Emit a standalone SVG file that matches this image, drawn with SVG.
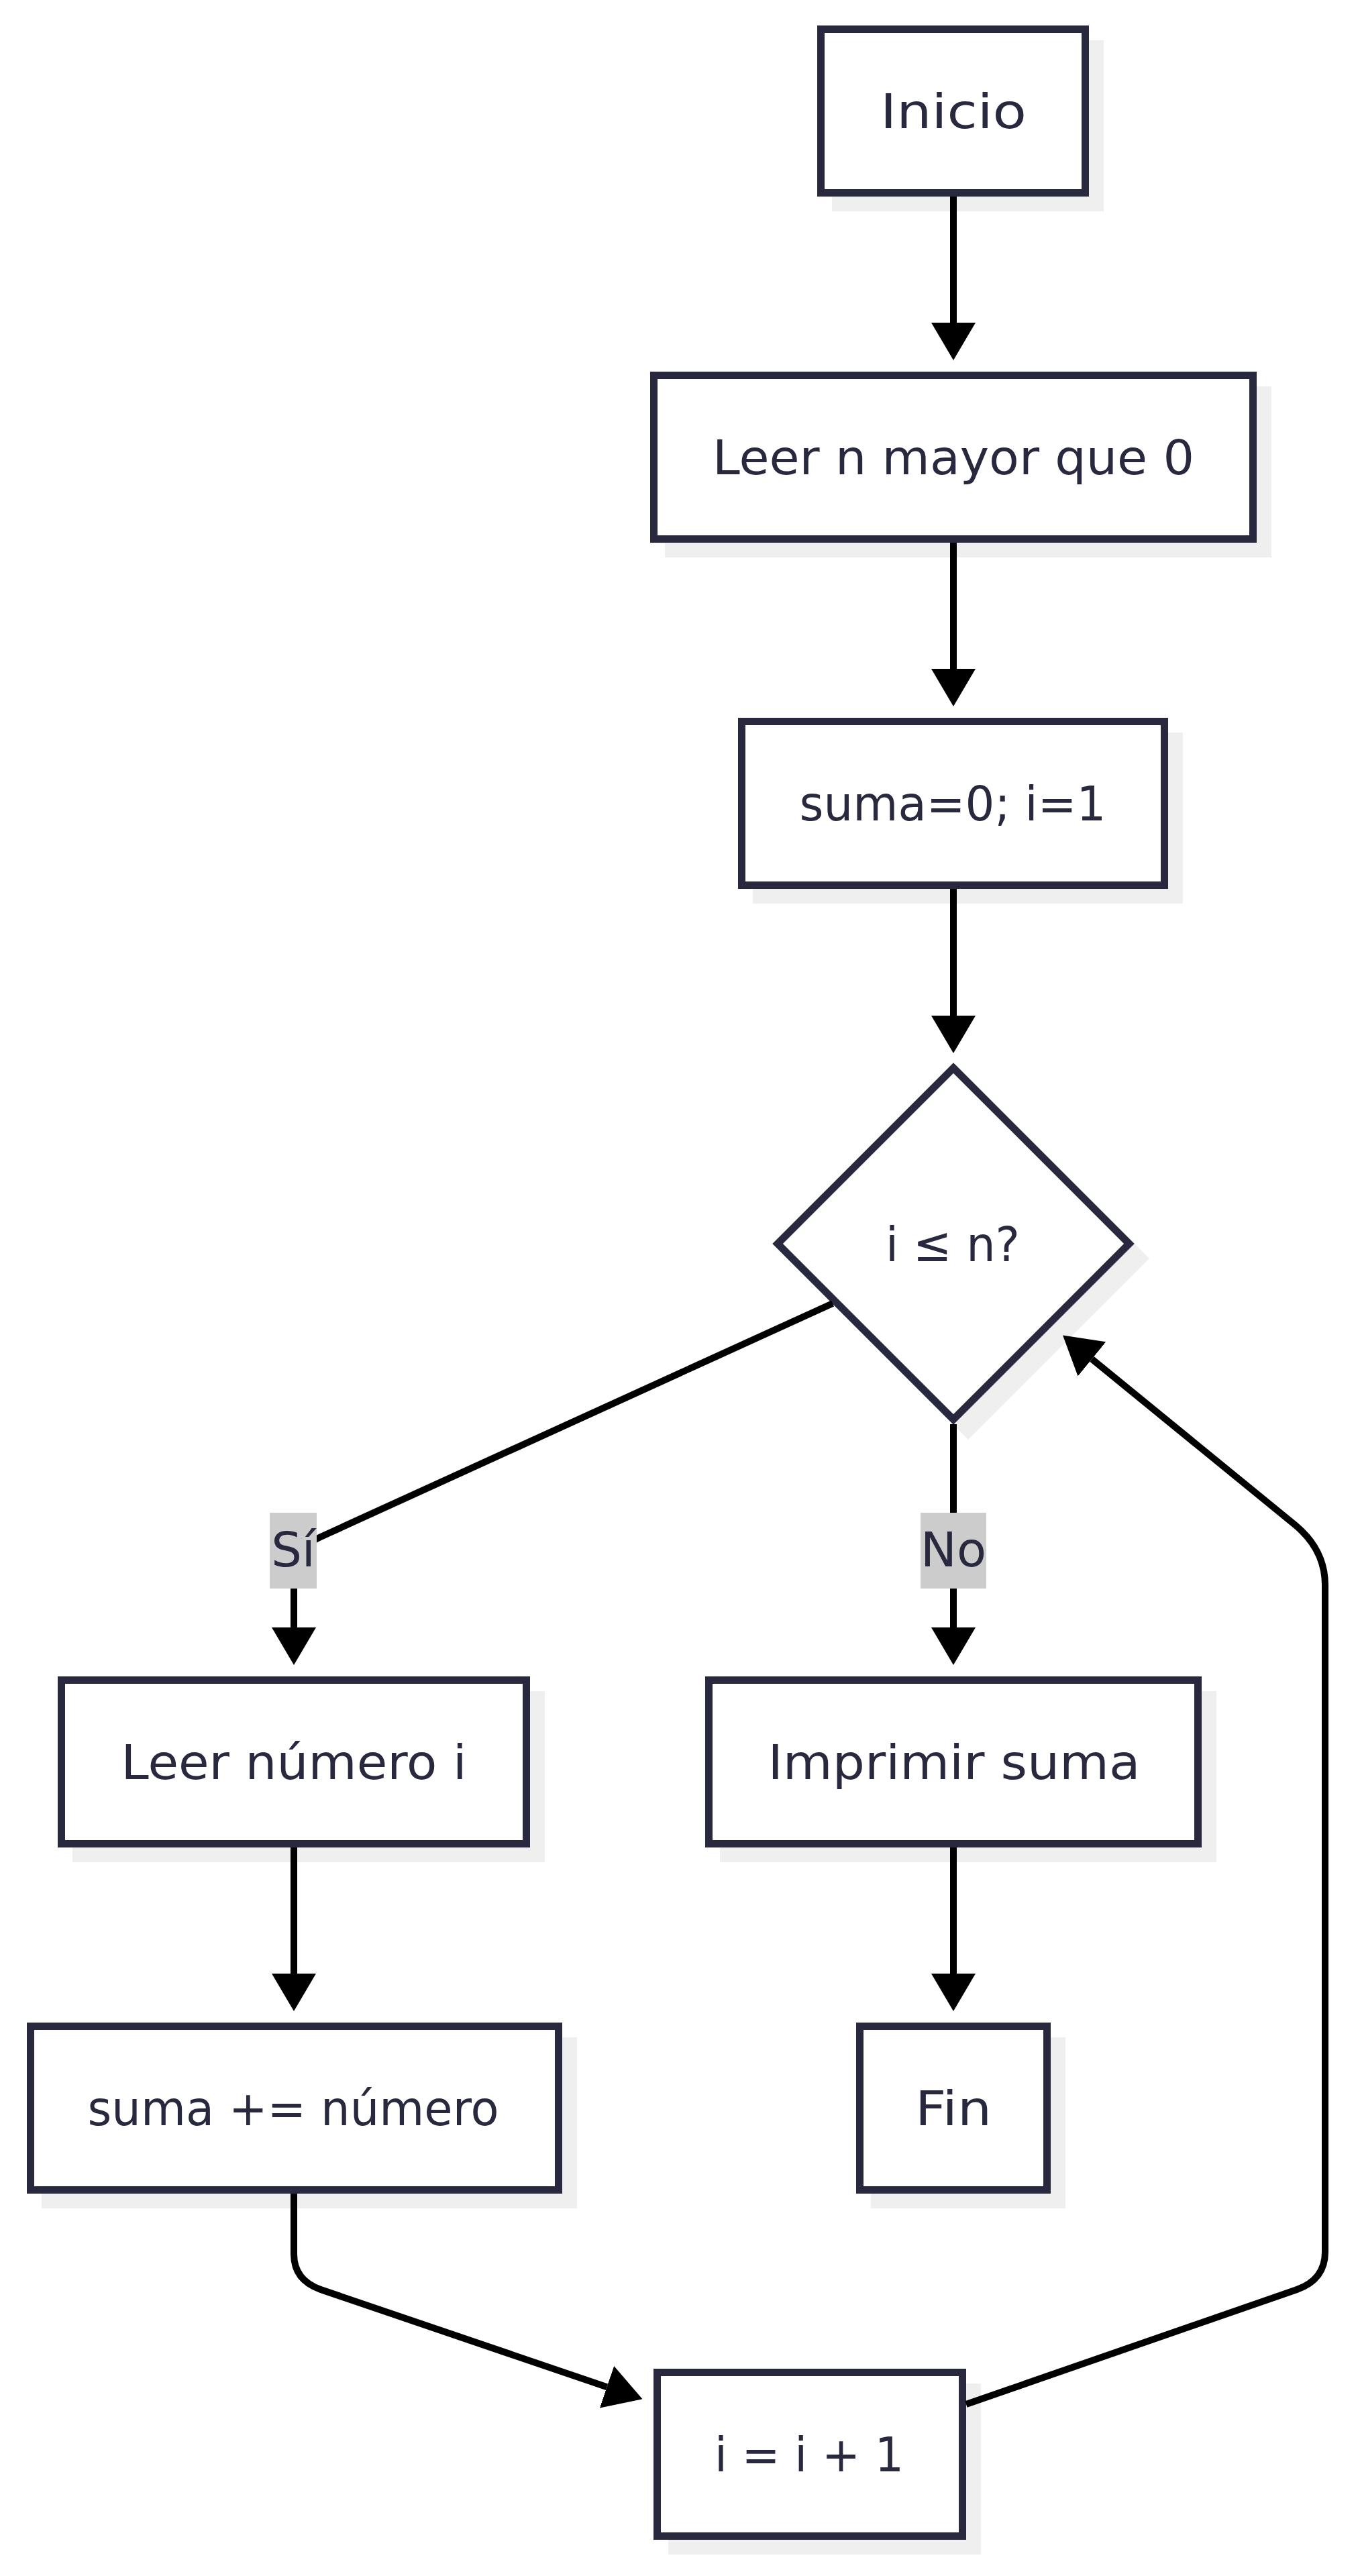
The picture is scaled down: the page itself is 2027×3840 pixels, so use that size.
<svg xmlns="http://www.w3.org/2000/svg" width="2027" height="3840" viewBox="0 0 2027 3840">
<style>
.bg{fill:#ffffff}
.sh{fill:#efefef;stroke:none}
.box{fill:#ffffff;stroke:#28283f;stroke-width:11}
.t{font-family:"DejaVu Sans","Noto Sans",sans-serif;font-size:72px;fill:#28283f;text-anchor:middle}
.e{fill:none;stroke:#000000;stroke-width:10;marker-end:url(#arr)}
.lb{fill:#cccccc}
</style>
<defs>
<marker id="arr" markerUnits="userSpaceOnUse" markerWidth="56" markerHeight="66" viewBox="0 0 10 10" refX="0" refY="5" orient="auto" preserveAspectRatio="none">
<path d="M0,0 L10,5 L0,10 z" fill="#000000"/>
</marker>
</defs>
<rect class="bg" x="0" y="0" width="2027" height="3840"/>

<g id="n-inicio">
<rect class="sh" x="1240" y="60" width="405" height="255"/>
<rect class="box" x="1223.5" y="43.5" width="394" height="244"/>
<text class="t" x="1421" y="190.5" textLength="218" lengthAdjust="spacingAndGlyphs">Inicio</text>
</g>
<g id="n-leer-n">
<rect class="sh" x="991" y="576" width="904" height="255"/>
<rect class="box" x="974.5" y="559.5" width="893" height="244"/>
<text class="t" x="1421" y="706.5" textLength="718" lengthAdjust="spacingAndGlyphs">Leer n mayor que 0</text>
</g>
<g id="n-init">
<rect class="sh" x="1122" y="1092" width="641" height="255"/>
<rect class="box" x="1105.5" y="1075.5" width="630" height="244"/>
<text class="t" x="1420" y="1222.5" textLength="457" lengthAdjust="spacingAndGlyphs">suma=0; i=1</text>
</g>
<g id="n-cond">
<polygon class="sh" points="1443,1606 1713,1876 1443,2146 1173,1876"/>
<polygon class="box" points="1421,1592 1683,1854 1421,2116 1159,1854"/>
<text class="t" x="1420" y="1879.5" textLength="200" lengthAdjust="spacingAndGlyphs">i ≤ n?</text>
</g>
<g id="n-leer-num">
<rect class="sh" x="108" y="2521" width="704" height="255"/>
<rect class="box" x="91.5" y="2504.5" width="693" height="244"/>
<text class="t" x="438" y="2651.5" textLength="515" lengthAdjust="spacingAndGlyphs">Leer número i</text>
</g>
<g id="n-imprimir">
<rect class="sh" x="1073" y="2521" width="740" height="255"/>
<rect class="box" x="1056.5" y="2504.5" width="729" height="244"/>
<text class="t" x="1422" y="2651.5" textLength="555" lengthAdjust="spacingAndGlyphs">Imprimir suma</text>
</g>
<g id="n-sumar">
<rect class="sh" x="62" y="3037" width="798" height="255"/>
<rect class="box" x="45.5" y="3020.5" width="787" height="244"/>
<text class="t" x="437" y="3167.5" textLength="613" lengthAdjust="spacingAndGlyphs">suma += número</text>
</g>
<g id="n-fin">
<rect class="sh" x="1298" y="3037" width="290" height="255"/>
<rect class="box" x="1281.5" y="3020.5" width="279" height="244"/>
<text class="t" x="1421" y="3167.5" textLength="114" lengthAdjust="spacingAndGlyphs">Fin</text>
</g>
<g id="n-incr">
<rect class="sh" x="996" y="3553" width="466" height="255"/>
<rect class="box" x="979.5" y="3536.5" width="455" height="244"/>
<text class="t" x="1206" y="3683.5" textLength="282" lengthAdjust="spacingAndGlyphs">i = i + 1</text>
</g>

<g id="connectors">
<path class="e" d="M1421,293 L1421,481"/>
<path class="e" d="M1421,809 L1421,997"/>
<path class="e" d="M1421,1325 L1421,1514"/>
<path class="e" d="M1241,1943 L478,2291 Q438,2309 438,2345 L438,2426"/>
<path class="e" d="M1421,2123 L1421,2426"/>
<path class="e" d="M438,2754 L438,2942"/>
<path class="e" d="M1421,2754 L1421,2942"/>
<path class="e" d="M438,3270 L438,3360 Q438,3399 478,3413 L904.5,3558.2"/>
<path class="e" d="M1440,3584 L1933,3413 Q1975,3398 1975,3357 L1975,2363 Q1975,2310 1930,2273 L1627.4,2025.9"/>
</g>

<g id="edge-labels">
<g id="l-si">
<rect class="lb" x="402" y="2255" width="70" height="113"/>
<text class="t" x="437" y="2335">Sí</text>
</g>
<g id="l-no">
<rect class="lb" x="1372" y="2255" width="98" height="113"/>
<text class="t" x="1421" y="2335">No</text>
</g>
</g>
</svg>
